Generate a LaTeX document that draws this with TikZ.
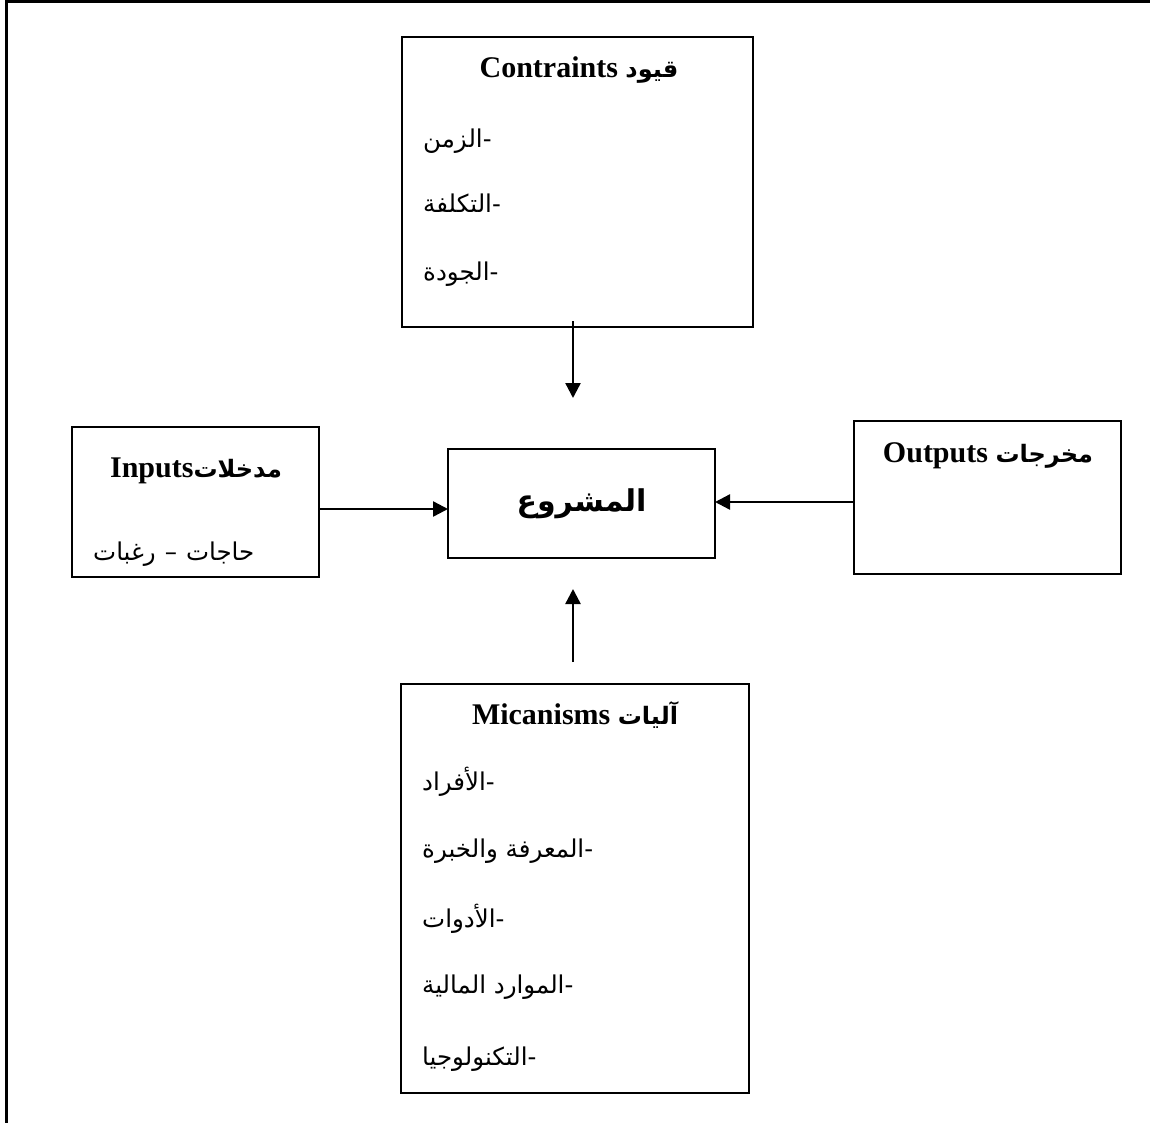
\documentclass[tikz,border=0pt]{standalone}
\usepackage{fontspec}
\setmainfont{Liberation Serif}
\newfontfamily\arabicfont[Script=Arabic]{DejaVu Sans}
\TeXXeTstate=1
\usetikzlibrary{arrows.meta}

% bold Arabic word inside a title line
\newcommand{\artitle}[1]{{\arabicfont\bfseries\fontsize{24}{30}\selectfont\beginR #1\endR}}

\begin{document}
\begin{tikzpicture}[x=1pt,y=-1pt,
  frame/.style={line width=3pt},
  box/.style={draw, line width=2.2pt, inner sep=0pt, outer sep=0pt},
  ttl/.style={inner sep=0pt, anchor=base, font=\fontsize{30}{36}\selectfont\bfseries},
  item/.style={inner sep=0pt, anchor=base west, font=\arabicfont\fontsize{24.5}{28}\selectfont},
  arr/.style={line width=2.4pt, -{Triangle[length=15pt,width=15pt]}}]
\useasboundingbox (0,0) rectangle (1150,1123);

% page frame (top and left edges)
\draw[frame] (6,1123) -- (6,2) -- (1150,2);

% boxes
\node[box, minimum width=351pt, minimum height=290pt] (cons) at (577.5,182) {};
\node[box, minimum width=247pt, minimum height=150pt] (inp)  at (195.5,502) {};
\node[box, minimum width=267pt, minimum height=109pt,
      font=\arabicfont\bfseries\fontsize{30}{36}\selectfont] (proj) at (581.5,503.5) {\beginR المشروع\endR};
\node[box, minimum width=267pt, minimum height=153pt] (outp) at (987.5,497.5) {};
\node[box, minimum width=348pt, minimum height=409pt] (mech) at (575,888.5) {};

% constraints
\node[ttl] (consT) at (579,78) {Contraints \artitle{قيود}};
\node[item] (cons1) at (423,148) {\beginR-الزمن\endR};
\node[item] (cons2) at (423,213) {\beginR-التكلفة\endR};
\node[item] (cons3) at (423,280) {\beginR-الجودة\endR};

% inputs
\node[ttl] (inpT) at (196,477) {Inputs\artitle{مدخلات}};
\node[item] (inp1) at (93,560) {\beginR حاجات\hspace{9pt}–\hspace{9pt}رغبات\endR};

% outputs
\node[ttl] (outT) at (988,462) {Outputs \artitle{مخرجات}};

% mechanisms
\node[ttl] (mechT) at (575,724) {Micanisms \artitle{آليات}};
\node[item] (mech1) at (422,790) {\beginR-الأفراد\endR};
\node[item] (mech2) at (422,857) {\beginR-المعرفة والخبرة\endR};
\node[item] (mech3) at (422,927) {\beginR-الأدوات\endR};
\node[item] (mech4) at (422,993) {\beginR-الموارد المالية\endR};
\node[item] (mech5) at (422,1065) {\beginR-التكنولوجيا\endR};

% connectors
\coordinate (downS) at (573,321);
\coordinate (downE) at (573,398);
\coordinate (upS)   at (573,662);
\coordinate (upE)   at (573,589);
\coordinate (rowIn) at (0,509);
\coordinate (rowOut) at (0,502);
\draw[arr] (downS) -- (downE);
\draw[arr] (upS) -- (upE);
\draw[arr] (inp.east |- rowIn) -- (proj.west |- rowIn);
\draw[arr] (outp.west |- rowOut) -- (proj.east |- rowOut);
\end{tikzpicture}
\end{document}
